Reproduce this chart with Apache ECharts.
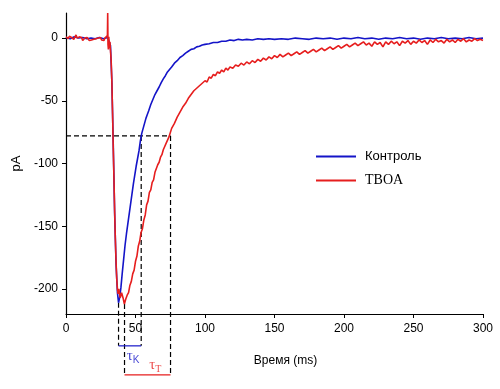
<!DOCTYPE html>
<html>
<head>
<meta charset="utf-8">
<script src="https://cdn.jsdelivr.net/npm/echarts@6/dist/echarts.min.js"></script>
<style>html,body{margin:0;padding:0;background:#fff}#c{width:500px;height:389px}</style>
</head>
<body>
<div id="c"></div>
<script>
// ---- data ----
const seriesNames = ['Контроль', 'TBOA'];
const xAxisTicks = [0, 50, 100, 150, 200, 250, 300];
const yAxisTicks = [0, -50, -100, -150, -200];

const timeBlue = [0,3,6,9,12,15,18,21,24,27,30,31,32,33,34,35,36,37,37.8,38.6,39.5,40.5,41.5,42.5,43.5,44.5,45.5,46.5,47.5,48.5,49.5,50.5,51.5,52.5,53.5,54.5,55.5,56.5,57.5,58.5,59.5,61,62.5,64,65.5,67,68.5,70,71.5,73,74.5,76,78,80,82,84,86,88,90,92,94,96,98,100,103,106,109,112,115,118,121,124,127,130,134,138,142,146,150,155,160,165,170,175,180,185,190,195,200,205,210,215,220,225,230,235,240,245,250,255,260,265,270,275,280,285,290,295,300];
const valBlue = [0.5,-0.5,1,0,0.5,-0.5,0,-0.5,0.5,-0.5,0.5,-1,-6,-35,-85,-140,-180,-203,-211,-207,-199,-187,-176,-165,-156,-148,-140,-132,-124,-116,-109,-102,-96,-90,-82,-76,-72,-68,-64,-61,-58,-53,-49,-45,-42,-39,-35.5,-32.5,-30,-27,-25,-23,-20,-18,-15.5,-14,-12,-10.5,-9,-8.5,-7,-6.5,-5.5,-5,-4.5,-3.5,-3.5,-2.5,-2.5,-1.5,-2,-1,-1.5,-1,-1.5,-0.5,-1,-0.5,-1,-0.5,-1,0,-0.5,-1,0,-0.5,0,-1,0,-0.5,0.5,-0.5,0,-1,0,-0.5,0.5,-0.5,0,-1,0,-0.5,0.5,-0.5,0,-0.5,0.5,-0.5,0];

const timeRed = [0,0.8,1.6,2.4,3.2,4,4.8,5.6,6.4,7.2,8,8.8,9.6,10.4,11.2,12,12.8,13.6,14.4,15.2,16,16.8,17.6,18.4,19.2,20,20.8,21.6,22.4,23.2,24,24.8,25.6,26.4,27.2,28,28.8,29.4,29.8,30,30.2,30.5,30.8,31.2,31.6,32,32.5,33,33.5,34,34.5,35,35.5,36,36.5,37,37.5,38,39,40,41,42,43,44,45,46,47,48,49,50,51,52,53,54,55,56,57,58,59,60,61,62,63,64,65,66,67,68,69,70,71,72,73,74,75,76,77,78,79,80,81,82,83,84,85,86,87,88,89,90,91,92,93,94,95,96,97,98,99,100,101.5,103,104.5,106,107.5,109,110.5,112,113.5,115,116.5,118,120,122,124,126,128,130,132,134,136,138,140,142,144,146,148,150,152,154,156,158,160,162,164,166,168,170,172,174,176,178,180,182,184,186,188,190,192,194,196,198,200,202,204,206,208,210,212,214,216,218,220,222,224,226,228,230,232,234,236,238,240,242,244,246,248,250,252,254,256,258,260,262,264,266,268,270,272,274,276,278,280,282,284,286,288,290,292,294,296,298,300];
const valRed = [1,2.5,-0.5,1.5,3,0.5,2,-1,0.5,2.5,0,-1.5,1,-0.5,0.5,-2,-0.5,0,-1.5,0.5,-1,-2,-0.5,-1.5,0,-1,-2.5,-0.5,-1.5,0,-1,0.5,-1.5,-0.5,-2,0,-1,0.5,2,20,-5,-9,1,-8,-3,-10,-18,-35,-60,-88,-112,-138,-160,-178,-192,-200,-204,-200,-207,-203,-207,-212,-208,-205,-203,-197,-194,-188,-185,-178,-174,-166,-162,-155,-152,-145,-141,-133,-130,-123,-121,-115,-113,-107,-106,-101,-99,-95,-93,-89,-88,-84,-83,-79,-78,-72,-73,-68,-68,-63,-64,-59,-59,-55,-56,-52,-52,-48,-49,-45,-46,-42,-43,-40,-41,-38,-39,-36,-37,-34,-35,-31,-32,-29,-30,-27,-28,-25.5,-27,-24,-25.5,-23,-24,-21.5,-22.5,-20,-21.5,-19,-20.5,-18,-19.5,-17,-18.5,-16,-17.5,-15,-16.5,-14,-15.5,-13,-15,-13.5,-12,-14,-12.5,-11,-13,-11.5,-10,-12,-10.5,-9,-11,-9.5,-8,-10,-8.5,-7,-9,-7.5,-6,-8,-6.5,-5,-7,-5.5,-4,-6,-4.5,-3,-5.5,-4,-6.5,-3,-5,-3.5,-7,-3,-5,-2.5,-4.5,-3,-6,-2.5,-4,-2,-5,-2.5,-4,-1.5,-3.5,-2,-5,-1.5,-3.5,-1,-3,-2,-4,-1,-3,-1.5,-3.5,-1,-2.5,-0.5,-3,-1.5,-2.5,-0.5,-2,-1,-2];

// tau construction (data units)
const tauLevel = -78;
const tauK = [37.8, 54.1];   // start / end of control tau
const tauT = [42.1, 75.2];   // start / end of TBOA tau
const minK = -211, minT = -212;
const bracketK = -245.4, bracketT = -268.5;
const tauLabelK = [48.3, -253.5];
const tauLabelT = [64.2, -261];

// ---- chart ----
const BLUE = '#1414c8', RED = '#e61e1e';
const zip = (a, b) => a.map((t, i) => [t, b[i]]);
const chart = echarts.init(document.getElementById('c'), null, {renderer: 'canvas'});

function seg(points, color, dashed) {
  return {
    type: 'line', data: points, symbol: 'none', silent: true, clip: false,
    lineStyle: {color: color, width: 1.2, type: dashed ? [5, 3] : 'solid'},
    z: 1
  };
}

const series = [
  {name: seriesNames[0], type: 'line', data: zip(timeBlue, valBlue), symbol: 'none',
   lineStyle: {color: BLUE, width: 1.6}, itemStyle: {color: BLUE}, z: 3},
  {name: seriesNames[1], type: 'line', data: zip(timeRed, valRed), symbol: 'none',
   lineStyle: {color: RED, width: 1.6}, itemStyle: {color: RED}, z: 4},
  seg([[0, tauLevel], [tauT[1], tauLevel]], '#000', true),
  seg([[tauK[1], tauLevel], [tauK[1], bracketK]], '#000', true),
  seg([[tauT[1], tauLevel], [tauT[1], bracketT]], '#000', true),
  seg([[tauK[0], minK], [tauK[0], bracketK]], '#000', true),
  seg([[tauT[0], minT], [tauT[0], bracketT]], '#000', true),
  seg([[tauK[0], bracketK], [tauK[1], bracketK]], BLUE, false),
  seg([[tauT[0], bracketT], [tauT[1], bracketT]], RED, false),
  {type: 'scatter', data: [tauLabelK], symbolSize: 0, silent: true, clip: false,
   label: {show: true, position: 'inside', formatter: '{t|τ}{s|K}',
     rich: {t: {fontFamily: 'Liberation Serif', fontSize: 15, color: BLUE},
            s: {fontFamily: 'Liberation Sans', fontSize: 10, color: BLUE, padding: [8, 0, 0, 0]}}}},
  {type: 'scatter', data: [tauLabelT], symbolSize: 0, silent: true, clip: false,
   label: {show: true, position: 'inside', formatter: '{t|τ}{s|T}',
     rich: {t: {fontFamily: 'Liberation Serif', fontSize: 15, color: RED},
            s: {fontFamily: 'Liberation Serif', fontSize: 10, color: RED, padding: [8, 0, 0, 0]}}}}
];

chart.setOption({
  animation: false,
  backgroundColor: '#fff',
  grid: {left: 66, right: 17, top: 13, bottom: 75},
  legend: {
    data: seriesNames, orient: 'vertical', left: 315, top: 150, padding: 0,
    itemWidth: 40, itemHeight: 14, itemGap: 10.5,
    itemStyle: {opacity: 0},
    formatter: n => n === 'TBOA' ? '{b|' + n + '}' : '{a|' + n + '}',
    textStyle: {color: '#000', padding: [0, 0, 0, 4],
      rich: {a: {fontFamily: 'Liberation Sans', fontSize: 13, color: '#000'},
             b: {fontFamily: 'Liberation Serif', fontSize: 14, color: '#000'}}}
  },
  xAxis: {
    type: 'value', min: xAxisTicks[0], max: xAxisTicks[xAxisTicks.length - 1], interval: 50,
    name: 'Время (ms)', nameLocation: 'middle', nameGap: 41,
    nameTextStyle: {fontFamily: 'Liberation Sans', fontSize: 12, color: '#000', padding: [0, 0, 0, 22]},
    axisLine: {onZero: false, lineStyle: {color: '#000', width: 1.2}},
    axisTick: {length: 4, lineStyle: {color: '#000'}},
    axisLabel: {fontFamily: 'Liberation Sans', fontSize: 12, color: '#000', margin: 9},
    splitLine: {show: false}
  },
  yAxis: {
    type: 'value', min: -220, max: 20,
    name: 'pA', nameLocation: 'middle', nameGap: 42,
    nameTextStyle: {fontFamily: 'Liberation Sans', fontSize: 13, color: '#000'},
    axisLine: {show: true, lineStyle: {color: '#000', width: 1.2}},
    axisTick: {show: true, length: 4, customValues: yAxisTicks, lineStyle: {color: '#000'}},
    axisLabel: {fontFamily: 'Liberation Sans', fontSize: 12, color: '#000', margin: 8, customValues: yAxisTicks},
    splitLine: {show: false}
  },
  series: series
});
</script>
</body>
</html>
